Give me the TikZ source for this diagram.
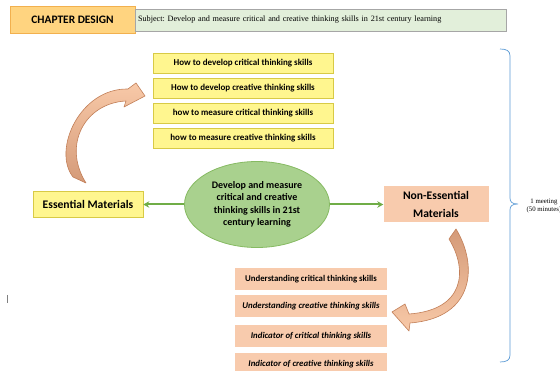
\documentclass[tikz,border=0pt]{standalone}
\usepackage{fontspec}
\setmainfont{Carlito}
\newfontfamily\seriffont{Liberation Serif}
\usetikzlibrary{arrows.meta,shapes.geometric}
\frenchspacing
\definecolor{ylfill}{HTML}{FFF68F}
\definecolor{yldraw}{HTML}{D8CA45}
\definecolor{peach}{HTML}{F8CBAD}
\definecolor{grfill}{HTML}{A9D18E}
\definecolor{grdraw}{HTML}{86BA62}
\definecolor{grarrow}{HTML}{70AD47}
\definecolor{chfill}{HTML}{FFD480}
\definecolor{chdraw}{HTML}{F2B04E}
\definecolor{sbfill}{HTML}{E2EFDA}
\definecolor{sbdraw}{HTML}{A6A6A6}
\definecolor{bracecol}{HTML}{5B9BD5}
\definecolor{arrdark}{HTML}{D49A78}
\definecolor{arrlight}{HTML}{F8C9A8}
\definecolor{arrdraw}{HTML}{C27F58}
\tikzset{
  ybox/.style={draw=yldraw, fill=ylfill, line width=0.6pt, minimum width=180pt, minimum height=20pt, inner sep=0pt, font=\fontsize{9}{10}\selectfont\bfseries},
  pbox/.style={fill=peach, minimum width=152pt, minimum height=22pt, inner sep=0pt, font=\fontsize{8.8}{10}\selectfont\bfseries},
  garrow/.style={draw=grarrow, line width=2pt, -{Stealth[length=6pt,width=6.5pt]}},
  curvearrow/.style={draw=arrdraw, line width=0.6pt, line join=round}
}
\begin{document}
\begin{tikzpicture}[x=1pt,y=-1pt]
\useasboundingbox (0,0) rectangle (560,371);
\fill[white] (0,0) rectangle (560,371);

% header
\node[draw=chdraw, fill=chfill, line width=0.6pt, minimum width=125pt, minimum height=27pt, inner sep=0pt, font=\fontsize{11.4}{13}\selectfont\bfseries] (chap) at (72.5,19.5) {CHAPTER DESIGN};
\node[draw=sbdraw, fill=sbfill, line width=0.6pt, minimum width=371pt, minimum height=22pt, inner xsep=3pt, inner ysep=0pt, text width=365pt, align=left, font=\seriffont\fontsize{8.2}{9}\selectfont] (subj) at (320.5,20) {Subject: Develop and measure critical and creative thinking skills in 21st century learning};

% yellow boxes
\node[ybox] (y1) at (243,63) {How to develop critical thinking skills};
\node[ybox] (y2) at (243,88) {How to develop creative thinking skills};
\node[ybox] (y3) at (243,113.5) {how to measure critical thinking skills};
\node[ybox] (y4) at (243,138) {how to measure creative thinking skills};

% center
\node[ellipse, draw=grdraw, fill=grfill, line width=0.8pt, minimum width=145pt, minimum height=86pt, inner sep=0pt, align=center, font=\fontsize{10}{12.5}\selectfont\bfseries] (ell) at (257,204.5) {Develop and measure\\critical and creative\\thinking skills in 21st\\century learning};

\node[draw=yldraw, fill=ylfill, line width=0.6pt, minimum width=110pt, minimum height=26pt, inner sep=0pt, font=\fontsize{11.6}{13}\selectfont\bfseries] (ess) at (88,204.5) {Essential Materials};
\node[fill=peach, minimum width=105pt, minimum height=36pt, inner sep=0pt, align=center, font=\fontsize{11.6}{17.5}\selectfont\bfseries] (ness) at (436,204.5) {Non-Essential\\Materials};

\draw[garrow] (ell.west) -- (ess.east);
\draw[garrow] (ell.east) -- (ness.west);

% peach boxes
\node[pbox] (p1) at (311,279) {Understanding critical thinking skills};
\node[pbox] (p2) at (311,306.5) {\itshape Understanding creative thinking skills};
\node[pbox] (p3) at (311,336) {\itshape Indicator of critical thinking skills};
\node[pbox] (p4) at (311,364) {\itshape Indicator of creative thinking skills};

% curved arrows
\shade[top color=arrlight, bottom color=arrdark] (73,177) .. controls (52,150) and (80,88) .. (128,89) -- (136,83) -- (145,96) -- (124,107) -- (126,101) .. controls (85,103) and (62,145) .. (86,183) -- cycle;
\draw[curvearrow] (73,177) .. controls (52,150) and (80,88) .. (128,89) -- (136,83) -- (145,96) -- (124,107) -- (126,101) .. controls (85,103) and (62,145) .. (86,183) -- cycle;

\shade[top color=arrdark, bottom color=arrlight] (456,229) .. controls (478,265) and (475,318) .. (410,323) -- (409,331) -- (392,312) -- (405,304) -- (409,314) .. controls (465,310) and (468,270) .. (449,239) -- cycle;
\draw[curvearrow] (456,229) .. controls (478,265) and (475,318) .. (410,323) -- (409,331) -- (392,312) -- (405,304) -- (409,314) .. controls (465,310) and (468,270) .. (449,239) -- cycle;

% brace
\draw[bracecol, line width=0.7pt] (500,49) .. controls (507,49) and (510,51) .. (510,56) -- (510,198) .. controls (510,202) and (512,204) .. (518,204) .. controls (512,204) and (510,206) .. (510,210) -- (510,355) .. controls (510,360) and (507,362) .. (500,362);
\node[anchor=west, inner sep=0pt, align=center, font=\seriffont\fontsize{6.8}{8.5}\selectfont] (meet) at (526.5,206) {1 meeting\\(50 minutes)};

% small mark
\draw[gray, line width=0.8pt] (7,295) -- (7,303);
\end{tikzpicture}
\end{document}
